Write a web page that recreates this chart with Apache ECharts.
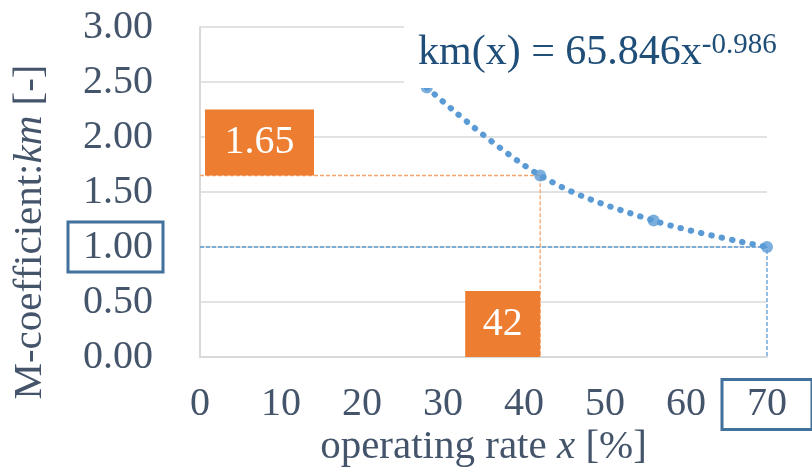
<!DOCTYPE html>
<html>
<head>
<meta charset="utf-8">
<script src="https://cdn.jsdelivr.net/npm/echarts@6/dist/echarts.min.js"></script>
<style>html,body{margin:0;padding:0;background:#fff}#c{width:812px;height:468px}</style>
</head>
<body>
<div id="c"></div>
<script>
// ---- data ----
const rateX = [28, 42, 56, 70];          // operating rate x [%]
const kmY = [2.45, 1.65, 1.24, 1.00];    // M-coefficient km
const xTicks = [0, 10, 20, 30, 40, 50, 60, 70];
const yTicks = [0, 0.5, 1, 1.5, 2, 2.5, 3];
const markRate = 42, markKm = 1.65;      // orange read-off
const baseRate = 70, baseKm = 1.00;      // blue reference
const eqMain = 'km(x) = 65.846x';
const eqExp = '-0.986';
const xName = 'operating rate ';
const xNameVar = 'x';
const xNameUnit = ' [%]';
const yNamePre = 'M-coefficient:';
const yNameVar = 'km';
const yNameUnit = ' [-]';

const FONT = '"Liberation Serif", "Times New Roman", serif';
const TXT = '#44546A';
const BLUE = '#5B9BD5';
const ORANGE = '#ED7D31';
const BOXBLUE = '#41719C';

const chart = echarts.init(document.getElementById('c'), null, {renderer: 'canvas'});
const pts = rateX.map((x, i) => [x, kmY[i]]);

chart.setOption({
  animation: false,
  backgroundColor: '#fff',
  textStyle: {fontFamily: FONT},
  title: {
    text: '{m|' + eqMain + '}{s|' + eqExp + '}',
    left: 404, top: 12,
    padding: [6, 40, 14, 14],
    backgroundColor: '#fff',
    textStyle: {
      fontWeight: 'normal',
      rich: {
        m: {fontFamily: FONT, fontSize: 42, fontWeight: 'normal', color: '#1F4E79', lineHeight: 56, verticalAlign: 'bottom'},
        s: {fontFamily: FONT, fontSize: 29, fontWeight: 'normal', color: '#1F4E79', lineHeight: 44, verticalAlign: 'top', padding: [13, 0, 0, 0]}
      }
    },
    z: 10
  },
  grid: {left: 200, right: 45, top: 27, bottom: 111, containLabel: false, outerBoundsMode: 'none'},
  xAxis: {
    type: 'value', min: xTicks[0], max: xTicks[xTicks.length - 1], interval: 10,
    axisLine: {show: true, lineStyle: {color: '#D9D9D9', width: 2}},
    axisTick: {show: false},
    splitLine: {show: false},
    axisLabel: {
      margin: 25,
      showMaxLabel: true, showMinLabel: true, hideOverlap: false,
      formatter: v => (v === baseRate ? '{b|' + v + '}' : '{n|' + v + '}'),
      rich: {
        n: {fontFamily: FONT, fontSize: 40, color: TXT, lineHeight: 45, padding: [5, 0, 5, 0]},
        b: {fontFamily: FONT, fontSize: 40, color: TXT, lineHeight: 45, padding: [5, 25, 5, 25], borderColor: BOXBLUE, borderWidth: 3}
      }
    },
    name: '{n|' + xName + '}{i|' + xNameVar + '}{n|' + xNameUnit + '}',
    nameLocation: 'middle', nameGap: 70, nameMoveOverlap: false,
    nameTextStyle: {
      rich: {
        n: {fontFamily: FONT, fontSize: 41, color: TXT},
        i: {fontFamily: FONT, fontSize: 41, color: TXT, fontStyle: 'italic'}
      }
    }
  },
  yAxis: {
    type: 'value', min: yTicks[0], max: yTicks[yTicks.length - 1], interval: 0.5,
    axisLine: {show: true, lineStyle: {color: '#D9D9D9', width: 2}},
    axisTick: {show: false},
    splitLine: {show: true, lineStyle: {color: '#D9D9D9', width: 1.5}},
    axisLabel: {
      margin: 37,
      formatter: v => (v === baseKm ? '{b|' + v.toFixed(2) + '}' : '{n|' + v.toFixed(2) + '}'),
      rich: {
        n: {fontFamily: FONT, fontSize: 40, color: TXT, lineHeight: 46, padding: [5, 10, 5, 15]},
        b: {fontFamily: FONT, fontSize: 40, color: TXT, lineHeight: 46, padding: [5, 10, 5, 15], borderColor: BOXBLUE, borderWidth: 3}
      }
    },
    name: '{n|' + yNamePre + '}{i|' + yNameVar + '}{n|' + yNameUnit + '}',
    nameLocation: 'middle', nameGap: 149, nameMoveOverlap: false,
    nameTextStyle: {
      padding: [0, 80, 0, 0],
      rich: {
        n: {fontFamily: FONT, fontSize: 41, color: TXT},
        i: {fontFamily: FONT, fontSize: 41, color: TXT, fontStyle: 'italic'}
      }
    }
  },
  series: [
    {
      type: 'line', data: [[0, markKm], [markRate, markKm], [markRate, 0]],
      symbol: 'none', silent: true, z: 1,
      lineStyle: {color: '#F4A56E', width: 1.3, type: [4, 2]}
    },
    {
      type: 'line', data: [[0, baseKm], [baseRate, baseKm], [baseRate, 0]],
      symbol: 'none', silent: true, z: 1,
      lineStyle: {color: BLUE, width: 1.3, type: [4, 2]}
    },
    {
      type: 'line', data: pts, smooth: 0.35, symbol: 'none', z: 2,
      lineStyle: {color: BLUE, width: 6, type: [0.5, 10], cap: 'round'}
    },
    {
      type: 'scatter', data: pts, symbolSize: 12, z: 3,
      itemStyle: {color: BLUE}
    }
  ]
});

function placeBoxes() {
  const pY = chart.convertToPixel({yAxisIndex: 0}, markKm);
  const p0 = chart.convertToPixel({yAxisIndex: 0}, 0);
  const pX = chart.convertToPixel({xAxisIndex: 0}, markRate);
  const pXl = chart.convertToPixel({xAxisIndex: 0}, 0);
  const h = 66;
  chart.setOption({
    graphic: [
      {type: 'rect', z: 20, shape: {x: pXl + 5, y: pY - h, width: 109, height: h}, style: {fill: ORANGE}},
      {type: 'text', z: 21, x: pXl + 5 + 54.5, y: pY - h / 2,
        style: {text: markKm.toFixed(2), fill: '#fff', font: '40px ' + FONT, align: 'center', verticalAlign: 'middle'}},
      {type: 'rect', z: 20, shape: {x: pX - 75, y: p0 - h, width: 75, height: h}, style: {fill: ORANGE}},
      {type: 'text', z: 21, x: pX - 37.5, y: p0 - h / 2,
        style: {text: String(markRate), fill: '#fff', font: '40px ' + FONT, align: 'center', verticalAlign: 'middle'}}
    ]
  });
}
placeBoxes();
</script>
</body>
</html>
